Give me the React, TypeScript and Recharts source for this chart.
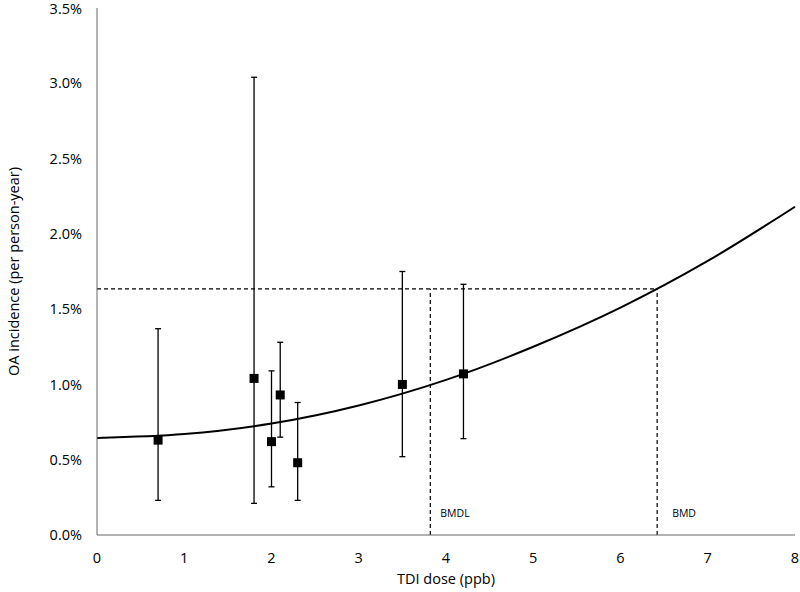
import {
  ComposedChart,
  ErrorBar,
  Line,
  Scatter,
  XAxis,
  YAxis,
} from "recharts";

// observed incidence points (%)
const doseX = [0.7, 1.8, 2.0, 2.1, 2.3, 3.5, 4.2];
const incidence = [0.63, 1.04, 0.62, 0.93, 0.48, 1.0, 1.07];
const ciLow = [0.23, 0.21, 0.32, 0.65, 0.23, 0.52, 0.64];
const ciHigh = [1.37, 3.04, 1.09, 1.28, 0.88, 1.75, 1.665];

// fitted dose-response curve
const curveX = [0, 1, 2, 3, 4, 5, 6, 7, 8];
const curveY = [0.645, 0.67, 0.74, 0.86, 1.03, 1.25, 1.51, 1.82, 2.18];

// benchmark dose
const bmdl = 3.82;
const bmd = 6.42;
const bmr = 1.635;

const xTicks = [0, 1, 2, 3, 4, 5, 6, 7, 8];
const yTicks = [0, 0.5, 1, 1.5, 2, 2.5, 3, 3.5];

const points = doseX.map((x, i) => ({
  x,
  y: incidence[i],
  err: [incidence[i] - ciLow[i], ciHigh[i] - incidence[i]],
}));
const curve = curveX.map((x, i) => ({ x, y: curveY[i] }));
const hLine = [
  { x: 0, y: bmr },
  { x: bmd, y: bmr },
];
const bmdlLine = [
  { x: bmdl, y: 0 },
  { x: bmdl, y: bmr },
];
const bmdLine = [
  { x: bmd, y: 0 },
  { x: bmd, y: bmr },
];
const markers = [
  { x: bmdl, y: 0, name: "BMDL", dx: 10 },
  { x: bmd, y: 0, name: "BMD", dx: 15 },
];

const font = "'Open Sans', sans-serif";
const tickStyle = { fontSize: 14.5, fill: "#000", fontFamily: font };

export default function App() {
  return (
    <div style={{ position: "absolute", left: 0, top: 0, background: "#fff" }}>
      <ComposedChart
        width={800}
        height={592}
        margin={{ top: 8, right: 5, bottom: 0, left: 0 }}
      >
        <XAxis
          type="number"
          dataKey="x"
          domain={[0, 8]}
          ticks={xTicks}
          tickLine={false}
          tickMargin={12}
          stroke="#666"
          tick={tickStyle}
          height={57}
          label={{
            value: "TDI dose (ppb)",
            position: "insideBottom",
            offset: 8,
            style: { fontSize: 14.5, fill: "#000", fontFamily: font },
          }}
        />
        <YAxis
          type="number"
          dataKey="y"
          domain={[0, 3.5]}
          ticks={yTicks}
          tickLine={false}
          tickMargin={9}
          stroke="#666"
          width={97}
          tick={tickStyle}
          tickFormatter={(v) => `${v.toFixed(1)}%`}
          label={{
            value: "OA incidence (per person-year)",
            angle: -90,
            position: "insideLeft",
            offset: 14,
            style: {
              fontSize: 14.5,
              fill: "#000",
              fontFamily: font,
              textAnchor: "middle",
            },
          }}
        />
        <Line
          data={hLine}
          dataKey="y"
          stroke="#000"
          strokeWidth={1.2}
          strokeDasharray="4 3"
          dot={false}
          isAnimationActive={false}
        />
        <Line
          data={bmdlLine}
          dataKey="y"
          stroke="#000"
          strokeWidth={1.2}
          strokeDasharray="4 3"
          dot={false}
          isAnimationActive={false}
        />
        <Line
          data={bmdLine}
          dataKey="y"
          stroke="#000"
          strokeWidth={1.2}
          strokeDasharray="4 3"
          dot={false}
          isAnimationActive={false}
        />
        <Line
          data={curve}
          dataKey="y"
          type="monotone"
          stroke="#000"
          strokeWidth={2}
          dot={false}
          isAnimationActive={false}
        />
        <Scatter
          data={points}
          dataKey="y"
          isAnimationActive={false}
          shape={(p: any) => (
            <rect x={p.cx - 4.5} y={p.cy - 4.5} width={9} height={9} fill="#000" />
          )}
        >
          <ErrorBar
            dataKey="err"
            direction="y"
            width={3}
            stroke="#000"
            strokeWidth={1.3}
            isAnimationActive={false}
          />
        </Scatter>
        <Scatter
          data={markers}
          dataKey="y"
          isAnimationActive={false}
          shape={(p: any) => (
            <text
              x={p.cx + p.payload.dx}
              y={p.cy - 18}
              fontSize={10.5}
              fontFamily={font}
              fill="#000"
            >
              {p.payload.name}
            </text>
          )}
        />
      </ComposedChart>
    </div>
  );
}
